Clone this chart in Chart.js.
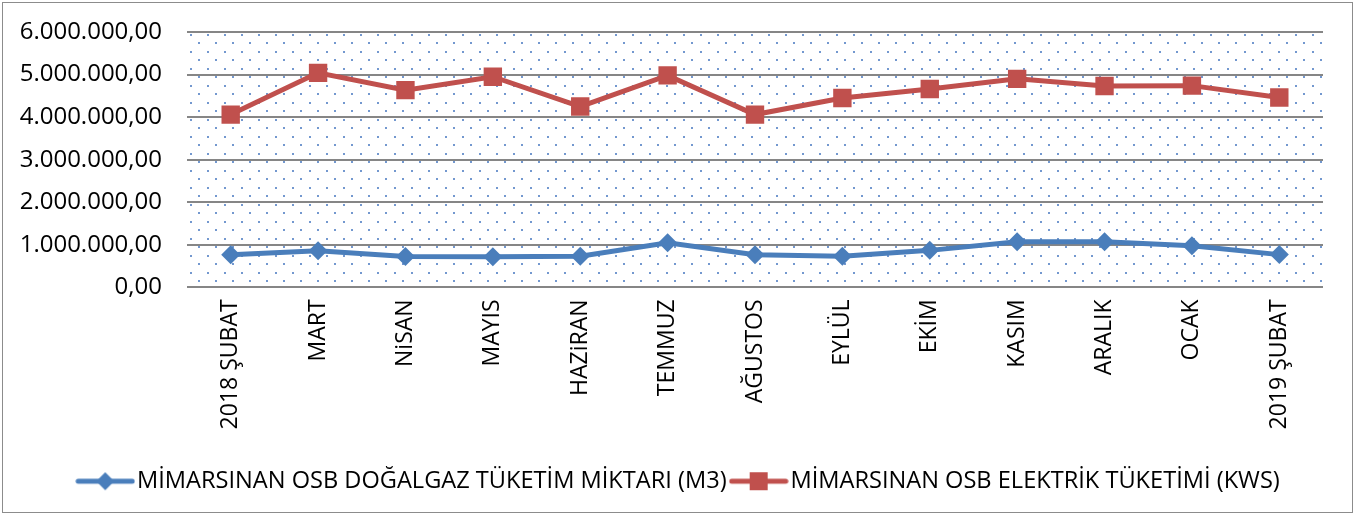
<!DOCTYPE html>
<html>
<head>
<meta charset="utf-8">
<script src="https://cdn.jsdelivr.net/npm/chart.js@4.4.1/dist/chart.umd.min.js"></script>
<style>
  html, body { margin: 0; padding: 0; background: #fff; }
  #wrap { position: relative; width: 1356px; height: 515px; }
  #frame { position: absolute; left: 2px; top: 2px; width: 1349px; height: 509px; border: 1px solid #8c8c8c; pointer-events: none; }
</style>
</head>
<body>
<div id="wrap">
  <canvas id="chart" width="1356" height="515"></canvas>
  <div id="frame"></div>
</div>
<script>
// months on the category axis
const categories = ['2018 ŞUBAT', 'MART', 'NiSAN', 'MAYIS', 'HAZiRAN', 'TEMMUZ', 'AĞUSTOS', 'EYLÜL', 'EKİM', 'KASIM', 'ARALIK', 'OCAK', '2019 ŞUBAT'];

// natural gas (m3)
const gasValues = [765000, 860000, 725000, 720000, 730000, 1050000, 765000, 730000, 870000, 1075000, 1075000, 980000, 770000];

// electricity (kWh)
const elecValues = [4060000, 5040000, 4635000, 4950000, 4250000, 4980000, 4060000, 4450000, 4660000, 4900000, 4730000, 4740000, 4460000];

const seriesNames = ['MİMARSINAN OSB DOĞALGAZ TÜKETİM MİKTARI (M3)', 'MİMARSINAN OSB ELEKTRİK TÜKETİMİ (KWS)'];

const yMin = 0, yMax = 6000000, yStep = 1000000;

const BLUE = '#4a7ebb';
const RED = '#c0504d';
const FONT = "'Open Sans', sans-serif";

function trFormat(v) {
  const s = Math.round(v).toString().replace(/\B(?=(\d{3})+(?!\d))/g, '.');
  return s + ',00';
}

// dotted fill like the office "small dots" pattern
function makePattern(ctx) {
  const c = document.createElement('canvas');
  c.width = 17; c.height = 17;
  const p = c.getContext('2d');
  p.fillStyle = '#ffffff';
  p.fillRect(0, 0, 17, 17);
  p.fillStyle = '#7398cf';
  p.fillRect(3, 0, 2, 2);
  p.fillRect(11, 8, 2, 2);
  return ctx.createPattern(c, 'repeat');
}

// legend swatch: line with the marker in the middle
function legendSwatch(color, shape) {
  const c = document.createElement('canvas');
  c.width = 60; c.height = 24;
  const g = c.getContext('2d');
  g.strokeStyle = color;
  g.lineWidth = 5;
  g.lineCap = 'round';
  g.beginPath();
  g.moveTo(3, 12); g.lineTo(57, 12);
  g.stroke();
  g.fillStyle = color;
  if (shape === 'diamond') {
    g.beginPath();
    g.moveTo(30, 3); g.lineTo(39, 12); g.lineTo(30, 21); g.lineTo(21, 12);
    g.closePath();
    g.fill();
  } else {
    g.fillRect(21, 3, 18, 18);
  }
  return c;
}

const patternPlugin = {
  id: 'patternBg',
  beforeDraw(chart) {
    const { ctx, chartArea: a } = chart;
    ctx.save();
    ctx.fillStyle = makePattern(ctx);
    ctx.fillRect(a.left, a.top, a.right - a.left + 2, a.bottom - a.top);
    ctx.restore();
  }
};

// legend is centred on the whole frame, not on the plot
const legendShift = {
  id: 'legendShift',
  afterLayout(chart) {
    if (chart.legend) {
      chart.legend.left += 21;
      chart.legend.right += 21;
    }
  }
};

const swatches = [legendSwatch(BLUE, 'diamond'), legendSwatch(RED, 'square')];

new Chart(document.getElementById('chart'), {
  type: 'line',
  data: {
    labels: categories,
    datasets: [
      {
        label: seriesNames[0],
        data: gasValues,
        borderColor: BLUE,
        backgroundColor: BLUE,
        borderWidth: 5,
        tension: 0,
        pointStyle: 'rectRot',
        pointRadius: 9.5,
        pointBorderWidth: 0,
        pointBackgroundColor: BLUE
      },
      {
        label: seriesNames[1],
        data: elecValues,
        borderColor: RED,
        backgroundColor: RED,
        borderWidth: 5,
        tension: 0,
        pointStyle: 'rect',
        pointRadius: 13,
        pointBorderWidth: 0,
        pointBackgroundColor: RED
      }
    ]
  },
  options: {
    responsive: false,
    animation: false,
    devicePixelRatio: 1,
    layout: { padding: { left: 0, right: 33, top: 32, bottom: 12 } },
    plugins: {
      legend: {
        position: 'bottom',
        labels: {
          usePointStyle: true,
          pointStyleWidth: 40,
          padding: 12,
          color: '#000',
          font: { family: FONT, size: 23.6 },
          generateLabels(chart) {
            return chart.data.datasets.map((ds, i) => ({
              text: ds.label,
              pointStyle: swatches[i],
              fillStyle: ds.borderColor,
              strokeStyle: ds.borderColor,
              lineWidth: 0,
              hidden: false,
              datasetIndex: i,
              fontColor: '#000'
            }));
          }
        }
      },
      tooltip: { enabled: false }
    },
    scales: {
      x: {
        offset: true,
        grid: { display: false, drawTicks: false },
        border: { display: false },
        ticks: {
          color: '#000',
          font: { family: FONT, size: 23 },
          minRotation: 90,
          maxRotation: 90,
          padding: 12,
          autoSkip: false
        },
        afterFit(scale) { scale.height = 170; }
      },
      y: {
        min: yMin,
        max: yMax,
        grid: { color: '#868686', lineWidth: 2, drawTicks: true, tickLength: 23, tickColor: 'rgba(0,0,0,0)' },
        border: { display: false },
        ticks: {
          stepSize: yStep,
          color: '#000',
          font: { family: FONT, size: 24 },
          padding: 2,
          callback: (v) => trFormat(v)
        },
        afterFit(scale) { scale.width = 187; }
      }
    }
  },
  plugins: [patternPlugin, legendShift]
});
</script>
</body>
</html>
